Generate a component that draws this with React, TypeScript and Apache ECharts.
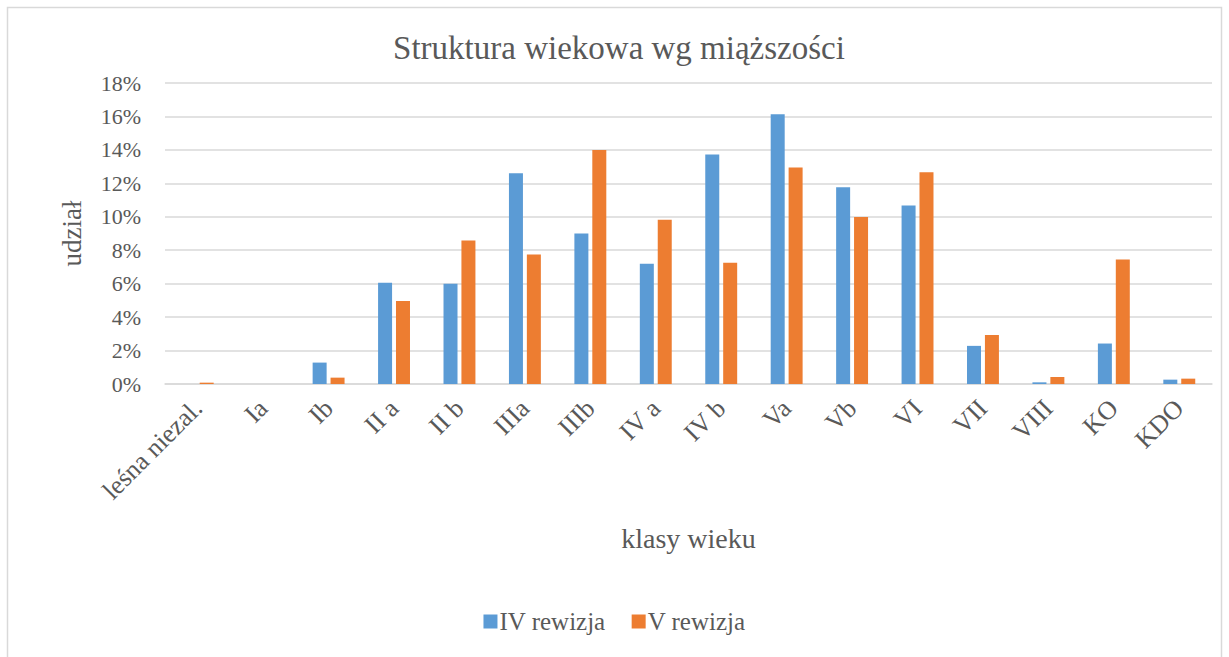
import React, { useEffect, useRef } from "react";
import * as echarts from "echarts";

const categories = [
  "leśna niezal.", "Ia", "Ib", "II a", "II b", "IIIa", "IIIb", "IV a",
  "IV b", "Va", "Vb", "VI", "VII", "VIII", "KO", "KDO",
];
const seriesIV = [0, 0, 1.28, 6.05, 5.99, 12.61, 9.0, 7.19, 13.73, 16.13, 11.76, 10.68, 2.28, 0.1, 2.42, 0.26];
const seriesV = [0.08, 0, 0.38, 4.97, 8.58, 7.74, 13.99, 9.82, 7.25, 12.95, 9.98, 12.67, 2.93, 0.42, 7.45, 0.32];
const seriesNames = ["IV rewizja", "V rewizja"];
const titleText = "Struktura wiekowa wg miąższości";
const yName = "udział";
const xName = "klasy wieku";

const FONT = "'Liberation Serif', 'DejaVu Serif', serif";
const GRAY = "#595959";

export default function App() {
  const ref = useRef<HTMLDivElement>(null);
  useEffect(() => {
    if (!ref.current) return;
    const chart = echarts.init(ref.current, undefined, { renderer: "svg" });
    chart.setOption({
      animation: false,
      backgroundColor: "#ffffff",
      textStyle: { fontFamily: FONT, color: GRAY },
      title: {
        text: titleText,
        left: 614,
        textAlign: "center",
        top: 26,
        textStyle: { fontFamily: FONT, fontSize: 33, fontWeight: "normal", color: GRAY },
      },
      graphic: [
        {
          type: "rect",
          shape: { x: 7.5, y: 7.5, width: 1214, height: 670 },
          style: { fill: "none", stroke: "#d9d9d9", lineWidth: 1.5 },
          silent: true,
        },
      ],
      legend: {
        data: seriesNames,
        bottom: 18,
        left: "center",
        itemWidth: 14,
        itemHeight: 14,
        itemGap: 26,
        icon: "rect",
        textStyle: { fontFamily: FONT, fontSize: 25, color: GRAY, padding: [0, 0, 0, -3] },
      },
      grid: { left: 165, right: 17, top: 83, bottom: 273 },
      xAxis: {
        type: "category",
        data: categories,
        name: xName,
        nameLocation: "middle",
        nameGap: 140,
        nameTextStyle: { fontFamily: FONT, fontSize: 28, color: GRAY },
        axisLine: { lineStyle: { color: "#d9d9d9", width: 1.5 } },
        axisTick: { show: false },
        axisLabel: {
          rotate: 45,
          interval: 0,
          fontFamily: FONT,
          fontSize: 26,
          color: GRAY,
          margin: 20,
        },
      },
      yAxis: {
        type: "value",
        min: 0,
        max: 18,
        interval: 2,
        name: yName,
        nameLocation: "middle",
        nameGap: 80,
        nameRotate: 90,
        nameTextStyle: { fontFamily: FONT, fontSize: 27, color: GRAY },
        axisLine: { show: false },
        axisTick: { show: false },
        axisLabel: {
          formatter: "{value}%",
          fontFamily: FONT,
          fontSize: 22,
          color: GRAY,
          margin: 24,
        },
        splitLine: { lineStyle: { color: "#d9d9d9", width: 1.5 } },
      },
      series: [
        {
          name: seriesNames[0],
          type: "bar",
          data: seriesIV,
          barWidth: 14,
          barGap: "28%",
          itemStyle: { color: "#5b9bd5" },
        },
        {
          name: seriesNames[1],
          type: "bar",
          data: seriesV,
          barWidth: 14,
          itemStyle: { color: "#ed7d31" },
        },
      ],
    });
    return () => chart.dispose();
  }, []);
  return (
    <div
      ref={ref}
      style={{ position: "fixed", left: 0, top: 0, width: 1229, height: 657 }}
    />
  );
}
